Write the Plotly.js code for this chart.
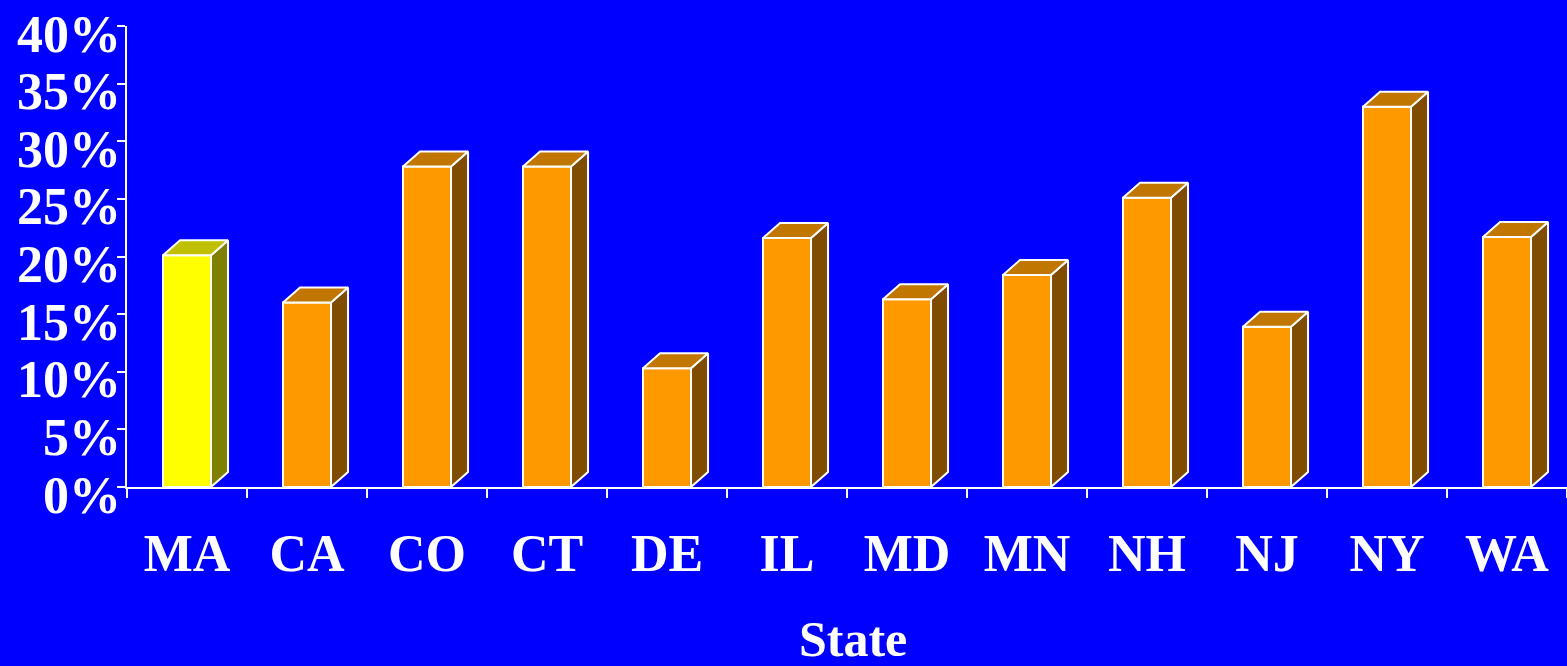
<!DOCTYPE html>
<html>
<head>
<meta charset="utf-8">
<script src="https://cdn.plot.ly/plotly-3.0.1.min.js"></script>
<style>html,body{margin:0;padding:0;background:#0000FF;}#chart{width:1567px;height:666px;}</style>
</head>
<body>
<div id="chart"></div>
<script>
// ---- data ----
const states = ["MA", "CA", "CO", "CT", "DE", "IL", "MD", "MN", "NH", "NJ", "NY", "WA"];
const values = [20.1, 16.0, 27.8, 27.8, 10.3, 21.6, 16.3, 18.4, 25.1, 13.9, 33.0, 21.7];
const highlight = ["MA"];
const yTickValues = [0, 5, 10, 15, 20, 25, 30, 35, 40];
const yTickText = ["0%", "5%", "10%", "15%", "20%", "25%", "30%", "35%", "40%"];
const xTitle = "State";

// ---- styling ----
const BG = "#0000FF";
const FRONT = "#FF9900", TOP = "#C17600", SIDE = "#7F4C00";
const HFRONT = "#FFFF00", HTOP = "#C0C000", HSIDE = "#808000";
const FONT = "Liberation Serif, Times New Roman, serif";
const barW = 0.4;      // in category units
const depthX = 0.142;  // ~17px / 120px per category
const depthY = 1.3;    // ~15px / 11.5px per %

const idx = states.map((s, i) => i);
const traces = [];

// 3D faces (top and side) built from the data values
states.forEach((s, i) => {
  const v = values[i];
  const hl = highlight.includes(s);
  const xl = i - barW / 2, xr = i + barW / 2;
  traces.push({
    type: "scatter", mode: "lines", fill: "toself",
    x: [xr, xr + depthX, xr + depthX, xr, xr],
    y: [0, depthY, v + depthY, v, 0],
    fillcolor: hl ? HSIDE : SIDE,
    line: {color: "#FFFFFF", width: 2},
    hoverinfo: "skip", showlegend: false
  });
  traces.push({
    type: "scatter", mode: "lines", fill: "toself",
    x: [xl, xr, xr + depthX, xl + depthX, xl],
    y: [v, v, v + depthY, v + depthY, v],
    fillcolor: hl ? HTOP : TOP,
    line: {color: "#FFFFFF", width: 2},
    hoverinfo: "skip", showlegend: false
  });
});

// front faces
traces.push({
  type: "bar",
  x: idx,
  y: values,
  width: barW,
  marker: {
    color: states.map(s => highlight.includes(s) ? HFRONT : FRONT),
    line: {color: "#FFFFFF", width: 2}
  },
  hoverinfo: "skip", showlegend: false
});

const boundaries = [];
for (let i = 0; i <= states.length; i++) boundaries.push(i - 0.5);

const annotations = yTickValues.map((v, i) => ({
  xref: "paper", yref: "y", x: 0, y: v,
  xanchor: "right", yanchor: "middle",
  xshift: -4, yshift: -8,
  text: yTickText[i], showarrow: false,
  font: {family: FONT, size: 52, color: "#FFFFFF", weight: "bold"}
}));

// x-axis title near the bottom edge, as in the original
annotations.push({
  xref: "paper", yref: "paper", x: 0.5, y: 0,
  xanchor: "center", yanchor: "top",
  xshift: 6, yshift: -122,
  text: xTitle, showarrow: false,
  font: {family: FONT, size: 50, color: "#FFFFFF", weight: "bold"}
});

const layout = {
  width: 1567, height: 666,
  paper_bgcolor: BG, plot_bgcolor: BG,
  margin: {l: 127, r: 0, t: 26, b: 179},
  showlegend: false,
  xaxis: {
    type: "linear",
    range: [-0.5, states.length - 0.5],
    tickmode: "array", tickvals: idx, ticktext: states,
    ticks: "", showgrid: false, zeroline: false,
    showline: true, linecolor: "#FFFFFF", linewidth: 2,
    tickfont: {family: FONT, size: 52, color: "#FFFFFF", weight: "bold"},
    ticklabelstandoff: 20,
    minor: {tickmode: "array", tickvals: boundaries, ticks: "outside", ticklen: 9, tickwidth: 2, tickcolor: "#FFFFFF", showgrid: false},
    fixedrange: true
  },
  yaxis: {
    range: [0, 40],
    tickmode: "array", tickvals: yTickValues, ticktext: yTickText,
    showticklabels: false,
    ticks: "outside", ticklen: 8, tickwidth: 2, tickcolor: "#FFFFFF",
    showgrid: false, zeroline: false,
    showline: true, linecolor: "#FFFFFF", linewidth: 2,
    fixedrange: true
  },
  annotations: annotations
};

Plotly.newPlot("chart", traces, layout, {displayModeBar: false, staticPlot: true});
</script>
</body>
</html>
